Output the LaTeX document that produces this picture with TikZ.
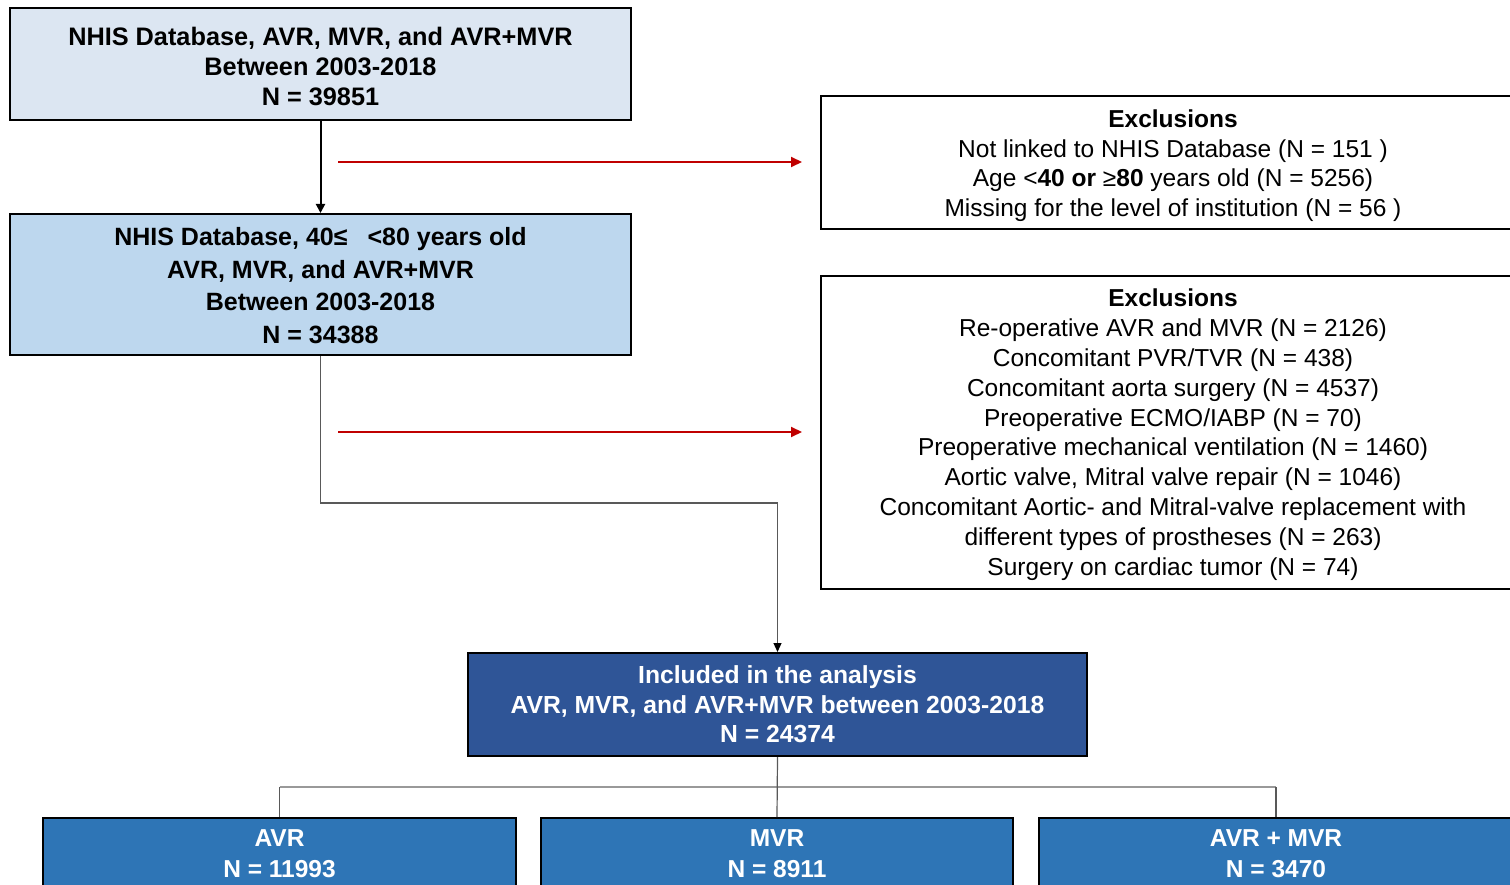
\documentclass[tikz,border=0pt]{standalone}
\usepackage{fontspec}
\setmainfont{Liberation Sans}
\usetikzlibrary{arrows.meta,positioning,calc}
\definecolor{boxA}{RGB}{220,230,242}
\definecolor{boxB}{RGB}{189,215,238}
\definecolor{boxC}{RGB}{47,85,151}
\definecolor{boxD}{RGB}{46,117,182}
\definecolor{redarr}{RGB}{192,0,0}
\definecolor{conngrey}{RGB}{89,89,89}
\newcommand{\topfix}[1]{\rule{0pt}{#1}}
\tikzset{
  basebox/.style={draw=black, line width=2pt, align=center, inner sep=0pt,
    font=\fontsize{24.5}{30}\selectfont},
  lightbox/.style={basebox, fill=boxA, font=\bfseries\fontsize{25.3}{30}\selectfont},
  midbox/.style={basebox, fill=boxB, font=\bfseries\fontsize{25}{32.5}\selectfont},
  darkbox/.style={basebox, fill=boxC, text=white, font=\bfseries\fontsize{24.7}{29.5}\selectfont},
  groupbox/.style={basebox, fill=boxD, text=white, font=\bfseries\fontsize{24.5}{31}\selectfont},
  exclbox/.style={basebox, fill=white, font=\fontsize{24.5}{29.8}\selectfont},
  redarrow/.style={draw=redarr, line width=2pt, -{Triangle[length=11pt,width=10pt]}},
  blackarrow/.style={draw=black, line width=2pt, -{Triangle[length=9pt,width=9pt]}},
  thinarrow/.style={draw=conngrey, line width=1.2pt, -{Triangle[length=9pt,width=8pt,fill=black,color=black]}},
  thinline/.style={draw=conngrey, line width=1.2pt},
  barline/.style={draw=gray!80, line width=2.2pt},
}
\begin{document}
\begin{tikzpicture}[x=1pt,y=-1pt]
\clip (0,0) rectangle (1510,885);
\fill[white] (0,0) rectangle (1510,885);

\node[lightbox, minimum width=621pt, minimum height=112pt] (b1) at (320.5,64)
  {\topfix{24pt}NHIS Database, AVR, MVR, and AVR+MVR\\Between 2003-2018\\N = 39851};

\node[midbox, minimum width=621pt, minimum height=141pt] (b2) at (320.5,284.5)
  {\topfix{20pt}NHIS Database, 40≤\hspace{20pt}<80 years old\\AVR, MVR, and AVR+MVR\\Between 2003-2018\\N = 34388};

\node[exclbox, minimum width=704pt, minimum height=133pt] (e1) at (1173,162.5)
  {\topfix{24pt}\textbf{Exclusions}\\Not linked to NHIS Database (N = 151 )\\Age <\textbf{40 or} ≥\textbf{80} years old (N = 5256)\\Missing for the level of institution (N = 56 )};

\node[exclbox, minimum width=704pt, minimum height=313pt] (e2) at (1173,432.5)
  {\topfix{22pt}\textbf{Exclusions}\\Re-operative AVR and MVR (N = 2126)\\Concomitant PVR/TVR (N = 438)\\Concomitant aorta surgery (N = 4537)\\Preoperative ECMO/IABP (N = 70)\\Preoperative mechanical ventilation (N = 1460)\\Aortic valve, Mitral valve repair (N = 1046)\\Concomitant Aortic- and Mitral-valve replacement with\\different types of prostheses (N = 263)\\Surgery on cardiac tumor (N = 74)};

\node[darkbox, minimum width=619pt, minimum height=103pt] (b3) at (777.5,704.5)
  {Included in the analysis\\AVR, MVR, and AVR+MVR between 2003-2018\\N = 24374};

\node[groupbox, minimum width=473pt, minimum height=71pt] (g1) at (279.5,853.5)
  {AVR\\N = 11993};
\node[groupbox, minimum width=472pt, minimum height=71pt] (g2) at (777,853.5)
  {MVR\\N = 8911};
\node[groupbox, minimum width=474pt, minimum height=71pt] (g3) at (1276,853.5)
  {AVR + MVR\\N = 3470};

% connectors
\draw[blackarrow] (b1.south) -- (b2.north);

\coordinate (r1) at (338,162);
\coordinate (r2) at (338,432);
\draw[redarrow, shorten >=18pt] (r1) -- (r1 -| e1.west);
\draw[redarrow, shorten >=18pt] (r2) -- (r2 -| e2.west);

\coordinate (k1) at (320.5,503);
\draw[thinarrow] (b2.south) -- (k1) -| (b3.north);

\coordinate (j) at (777,787);
\draw[barline] (j -| g1.north) -- (j -| g3.north);
\draw[thinline] (b3.south) -- (g2.north);
\draw[thinline] (j -| g1.north) -- (g1.north);
\draw[thinline] (j -| g3.north) -- (g3.north);
\end{tikzpicture}
\end{document}
